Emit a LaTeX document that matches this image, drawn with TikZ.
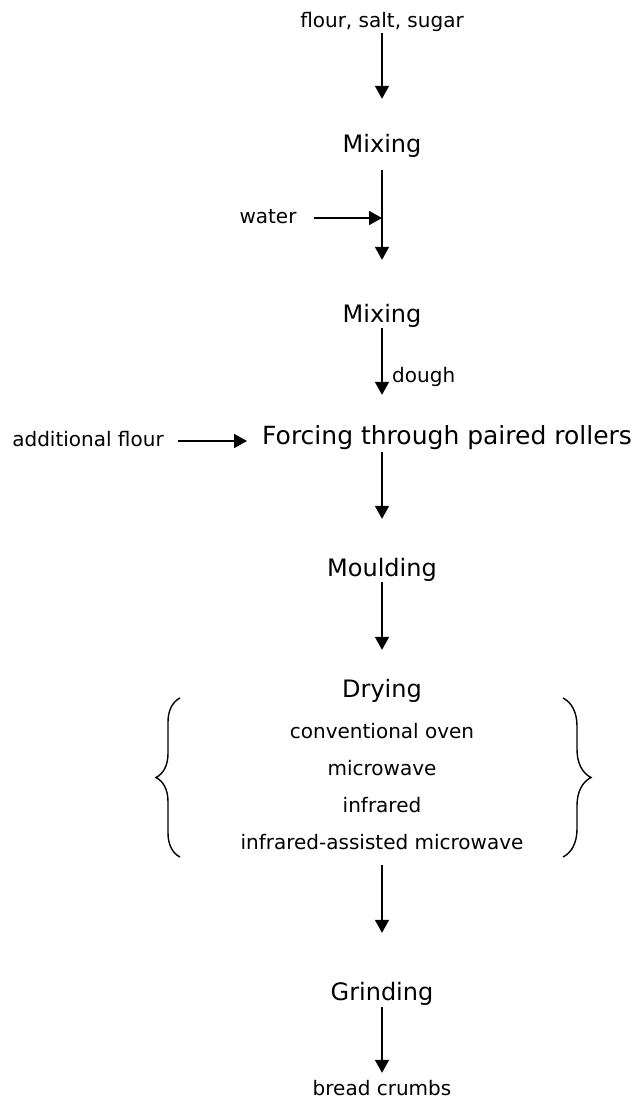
\documentclass[tikz,border=0pt]{standalone}
\usepackage{fontspec}
\setmainfont{DejaVu Sans}
\usetikzlibrary{arrows.meta, positioning, fit, decorations.pathreplacing}

\begin{document}
\begin{tikzpicture}[
    x=1pt, y=-1pt,
    big/.style={
        font=\fontsize{24}{29}\selectfont,
        inner sep=0pt,
        text height=18pt,
        text depth=6pt,
        anchor=base
    },
    small/.style={
        font=\fontsize{20}{24}\selectfont,
        inner sep=0pt,
        text height=15pt,
        text depth=5pt,
        anchor=base
    },
    arr/.style={-{Triangle[length=13pt, width=14pt]}, line width=1.8pt},
    brc/.style={decorate, decoration={brace, amplitude=#1}, line width=1.4pt}
]
\useasboundingbox (0,0) rectangle (639,1103);

% MAIN COLUMN
\node[small] (flour) at (382,27) {flour, salt, sugar};
\node[big] (mix1) at (382,152) {Mixing};
\node[big] (mix2) at (382,322) {Mixing};
\node[big, font=\fontsize{25}{30}\selectfont, anchor=base west] (force)
    at (262,444) {Forcing through paired rollers};
\node[big] (mould) at (382,576) {Moulding};
\node[big] (dry) at (382,697) {Drying};
\foreach \meth [count=\i] in {conventional oven, microwave, infrared,
    infrared-assisted microwave}
    \node[small] (m\i) at (382,701+37*\i) {\meth};
\node[fit=(dry)(m1)(m2)(m3)(m4), inner sep=0pt] (dryblock) {};
\node[big] (grind) at (382,1000) {Grinding};
\node[small] (crumbs) at (382,1095) {bread crumbs};

% SIDE INPUTS
\node[small] (water) at (268,223) {water};
\node[small] (addflour) at (88,446) {additional flour};
\node[small, anchor=base west] (dough) at (392,382) {dough};

% ARROWS
\draw[arr, shorten <=1pt, shorten >=35pt] (flour) -- (mix1);
\draw[arr, shorten <=12pt, shorten >=44pt] (mix1) -- (mix2);
\draw[arr, shorten <=17pt] (water) -- (water -| mix1);
\draw[arr, shorten >=31pt] (mix2) -- (mix2 |- force.north);
\draw[arr, shorten <=14pt, shorten >=15pt] (addflour) -- (addflour -| force.west);
\draw[arr, shorten <=2pt, shorten >=39pt] (mould |- force.south) -- (mould);
\draw[arr, shorten >=29pt] (mould) -- (dry);
\draw[arr, shorten <=11pt, shorten >=49pt] (dryblock) -- (grind);
\draw[arr, shorten <=1pt, shorten >=7pt] (grind) -- (crumbs);

% BRACES
\draw[brc=24pt] (180,857) -- (180,698);
\draw[brc=28pt] (563,698) -- (563,857);

\end{tikzpicture}
\end{document}
